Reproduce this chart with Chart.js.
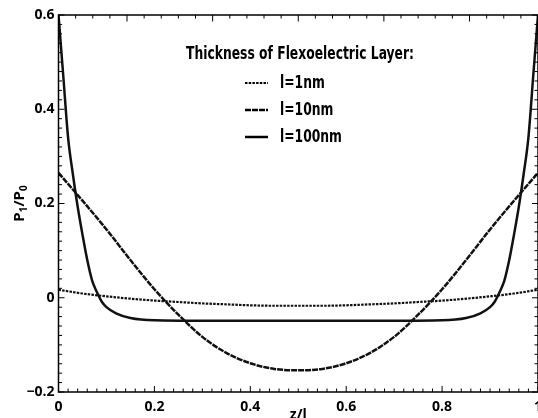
<!DOCTYPE html>
<html lang="en">
<head>
<meta charset="UTF-8">
<title>P1/P0 vs z/l</title>
<script src="https://cdn.jsdelivr.net/npm/chart.js"></script>
<style>
  html, body { margin: 0; padding: 0; background: #fff; }
  #wrap { width: 538px; height: 418px; }
</style>
</head>
<body>
<div id="wrap"><canvas id="profileChart"></canvas></div>
<script>
const legendTitle = 'Thickness of Flexoelectric Layer:';
const seriesLabels = ['l=1nm', 'l=10nm', 'l=100nm'];

// thin and medium layers, read on a coarse grid
const zCoarse = [0, 0.05, 0.1, 0.15, 0.2, 0.25, 0.3, 0.35, 0.4, 0.45, 0.5,
                 0.55, 0.6, 0.65, 0.7, 0.75, 0.8, 0.85, 0.9, 0.95, 1];
const p1nm  = [0.017, 0.009, 0.003, -0.002, -0.006, -0.009, -0.012, -0.014, -0.016, -0.017, -0.017,
               -0.017, -0.016, -0.014, -0.012, -0.009, -0.006, -0.002, 0.003, 0.009, 0.017];
const p10nm = [0.265, 0.206, 0.145, 0.08, 0.018, -0.036, -0.083, -0.117, -0.139, -0.151, -0.154,
               -0.151, -0.139, -0.117, -0.083, -0.036, 0.018, 0.08, 0.145, 0.206, 0.265];

// thick layer has steep edges, so a finer grid near the walls
const zFine = [0, 0.01, 0.02, 0.03, 0.04, 0.05, 0.06, 0.07, 0.08, 0.09, 0.1, 0.12, 0.15, 0.2,
               0.3, 0.4, 0.5, 0.6, 0.7,
               0.8, 0.85, 0.88, 0.9, 0.91, 0.92, 0.93, 0.94, 0.95, 0.96, 0.97, 0.98, 0.99, 1];
const p100nm = [0.6, 0.47, 0.34, 0.262, 0.193, 0.134, 0.08, 0.037, 0.012, -0.008, -0.02, -0.033, -0.043, -0.048,
                -0.049, -0.049, -0.049, -0.049, -0.049,
                -0.048, -0.043, -0.033, -0.02, -0.008, 0.012, 0.037, 0.08, 0.134, 0.193, 0.262, 0.34, 0.47, 0.6];

const xTicks = [0, 0.2, 0.4, 0.6, 0.8, 1];
const yTicks = [-0.2, 0, 0.2, 0.4, 0.6];

const tickFont = { family: 'Open Sans, Liberation Sans, sans-serif', size: 14, weight: 'bold' };
const legendFont = 'bold 17px "DejaVu Sans", sans-serif';

function pts(xs, ys) {
    return xs.map((v, i) => ({ x: v, y: ys[i] }));
}

function fmt(v) {
    const r = Math.round(v * 10) / 10;
    if (r === 0) return '0';
    return r < 0 ? '\u2212' + String(-r) : String(r);
}

// legend text is condensed in the original: squeeze it horizontally
function squeezed(ctx, text, x, y, k) {
    ctx.save();
    ctx.translate(x, y);
    ctx.scale(k, 1);
    ctx.fillText(text, 0, 0);
    ctx.restore();
}

const frameAndLegend = {
    id: 'frameAndLegend',
    afterDatasetsDraw(chart) {
        const { ctx, chartArea: a, scales: { x, y } } = chart;
        ctx.save();
        ctx.strokeStyle = '#000';
        ctx.lineWidth = 1.5;
        ctx.strokeRect(a.left, a.top, a.right - a.left, a.bottom - a.top);

        ctx.lineWidth = 1;
        ctx.beginPath();
        // bottom axis: minor every 0.02
        for (let i = 0; i <= 50; i++) {
            const px = x.getPixelForValue(i * 0.02);
            const len = i % 10 === 0 ? 6 : 3.5;
            ctx.moveTo(px, a.bottom); ctx.lineTo(px, a.bottom - len);
        }
        // top axis has its own spacing (28 divisions)
        for (let i = 0; i <= 28; i++) {
            const px = x.getPixelForValue(i / 28);
            const len = (i - 4) % 5 === 0 ? 6.5 : 3.5;
            ctx.moveTo(px, a.top); ctx.lineTo(px, a.top + len);
        }
        // left and right axes
        for (let i = 0; i <= 40; i++) {
            const py = y.getPixelForValue(-0.2 + i * 0.02);
            const len = i % 10 === 0 ? 6 : 3.5;
            ctx.moveTo(a.left, py); ctx.lineTo(a.left + len, py);
            ctx.moveTo(a.right, py); ctx.lineTo(a.right - len, py);
        }
        ctx.stroke();

        // legend
        ctx.fillStyle = '#000';
        ctx.font = legendFont;
        ctx.textBaseline = 'middle';
        ctx.textAlign = 'left';
        const k = 228 / ctx.measureText(legendTitle).width;
        squeezed(ctx, legendTitle, 300 - 114, 55, k);
        chart.data.datasets.forEach((ds, i) => {
            const ly = 83 + i * 27;
            ctx.beginPath();
            ctx.setLineDash(ds.borderDash || []);
            ctx.lineWidth = ds.borderWidth;
            ctx.moveTo(245, ly); ctx.lineTo(268, ly);
            ctx.stroke();
            ctx.setLineDash([]);
            squeezed(ctx, ds.label, 280, ly + 1, k);
        });

        // y title P1/P0 with subscripts
        ctx.translate(20, (a.top + a.bottom) / 2);
        ctx.rotate(-Math.PI / 2);
        const big = 'bold 15px Open Sans, sans-serif';
        const small = 'bold 10px Open Sans, sans-serif';
        const parts = [['P', big, 0], ['1', small, 4], ['/', big, 0], ['P', big, 0], ['0', small, 4]];
        let w = 0;
        parts.forEach(p => { ctx.font = p[1]; w += ctx.measureText(p[0]).width; });
        let cx = -w / 2;
        parts.forEach(p => {
            ctx.font = p[1];
            ctx.fillText(p[0], cx, p[2]);
            cx += ctx.measureText(p[0]).width;
        });
        ctx.restore();
    }
};

const ctx = document.getElementById('profileChart').getContext('2d');
const profileChart = new Chart(ctx, {
    type: 'line',
    data: {
        datasets: [{
            label: seriesLabels[0],
            data: pts(zCoarse, p1nm),
            borderColor: '#111',
            borderWidth: 2.2,
            borderDash: [2.5, 1.2]
        }, {
            label: seriesLabels[1],
            data: pts(zCoarse, p10nm),
            borderColor: '#111',
            borderWidth: 2.5,
            borderDash: [6, 1]
        }, {
            label: seriesLabels[2],
            data: pts(zFine, p100nm),
            borderColor: '#111',
            borderWidth: 2.5
        }]
    },
    options: {
        responsive: true,
        maintainAspectRatio: false,
        animation: false,
        layout: { padding: { top: 15, right: 0, bottom: 0, left: 0 } },
        elements: {
            point: { radius: 0 },
            line: { cubicInterpolationMode: 'monotone' }
        },
        plugins: {
            legend: { display: false },
            tooltip: { enabled: false }
        },
        scales: {
            x: {
                type: 'linear',
                min: 0, max: 1,
                afterBuildTicks: s => { s.ticks = xTicks.map(v => ({ value: v })); },
                afterFit: s => { s.height = 26; s.paddingLeft = 0; s.paddingRight = 0; },
                ticks: { callback: fmt, font: tickFont, color: '#000', padding: 7, maxRotation: 0, autoSkip: false },
                grid: { display: false, drawTicks: false },
                border: { display: false },
                title: { display: true, text: 'z/l', font: tickFont, color: '#000', padding: { top: 0, bottom: -5 } }
            },
            y: {
                min: -0.2, max: 0.6,
                afterBuildTicks: s => { s.ticks = yTicks.map(v => ({ value: v })); },
                afterFit: s => { s.width = 58.5; s.paddingTop = 0; s.paddingBottom = 0; },
                ticks: { callback: fmt, font: tickFont, color: '#000', padding: 4, autoSkip: false },
                grid: { display: false, drawTicks: false },
                border: { display: false }
            }
        }
    },
    plugins: [frameAndLegend]
});
</script>
</body>
</html>
